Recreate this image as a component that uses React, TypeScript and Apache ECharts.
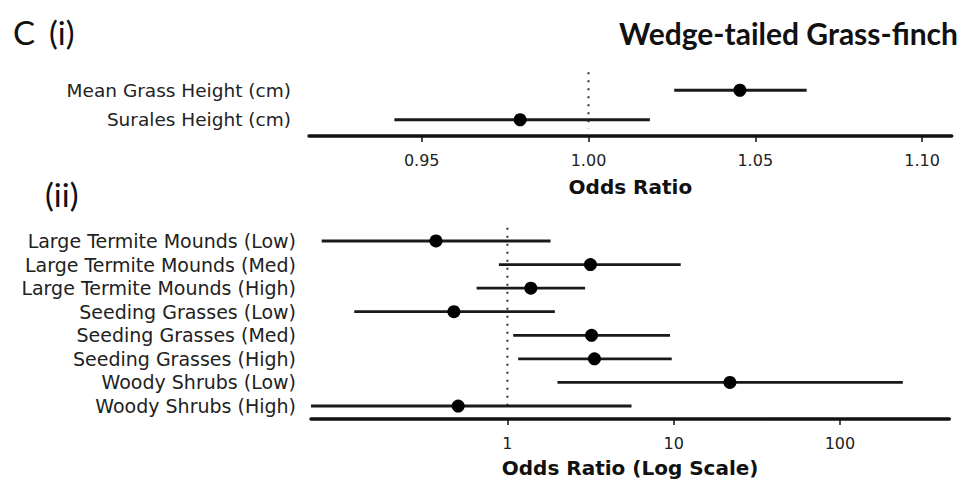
import React, { useEffect, useRef } from "react";
import * as echarts from "echarts";

// ---- Panel (i) ----
const topCategories = ["Mean Grass Height (cm)", "Surales Height (cm)"];
const topEstimate = [1.0454, 0.9795];
const topLower = [1.0257, 0.9418];
const topUpper = [1.0654, 1.0184];
const topTicks = [0.95, 1.0, 1.05, 1.1];
const topRefLine = [1, -0.61, 1.3]; // x value, from row, to row

// ---- Panel (ii) ----
const bottomCategories = [
  "Large Termite Mounds (Low)",
  "Large Termite Mounds (Med)",
  "Large Termite Mounds (High)",
  "Seeding Grasses (Low)",
  "Seeding Grasses (Med)",
  "Seeding Grasses (High)",
  "Woody Shrubs (Low)",
  "Woody Shrubs (High)",
];
const bottomEstimate = [0.372, 3.16, 1.384, 0.477, 3.21, 3.34, 21.8, 0.506];
const bottomLower = [0.0764, 0.889, 0.653, 0.12, 1.084, 1.161, 2.0, 0.0659];
const bottomUpper = [1.818, 11.03, 2.935, 1.93, 9.51, 9.74, 239, 5.58];
const bottomTicks = [1, 10, 100];
const bottomRefLine = [1, -0.56, 7.2];

const FONT = "DejaVu Sans";
const INK = "#111";

function whiskerRender(params: any, api: any) {
  const row = api.value(1);
  const a = api.coord([api.value(2), row]);
  const b = api.coord([api.value(3), row]);
  return {
    type: "line",
    shape: { x1: a[0], y1: a[1], x2: b[0], y2: b[1] },
    style: { stroke: "#1a1a1a", lineWidth: 2.8 },
  };
}

function refLineRender(params: any, api: any) {
  const x = api.value(0);
  const p0 = api.coord([x, 0]);
  const p1 = api.coord([x, 1]);
  const step = p1[1] - p0[1];
  const yA = p0[1] + api.value(2) * step;
  const yB = p0[1] + api.value(3) * step;
  return {
    type: "line",
    shape: { x1: p0[0], y1: yA, x2: p0[0], y2: yB },
    style: { stroke: "#333", lineWidth: 2, lineDash: [2, 6] },
  };
}

export default function App() {
  const ref = useRef<HTMLDivElement>(null);
  useEffect(() => {
    if (!ref.current) return;
    const chart = echarts.init(ref.current, null, { renderer: "svg" });

    const topWhiskers = topCategories.map((_, i) => [topEstimate[i], i, topLower[i], topUpper[i]]);
    const topPoints = topCategories.map((_, i) => [topEstimate[i], i]);
    const botWhiskers = bottomCategories.map((_, i) => [bottomEstimate[i], i, bottomLower[i], bottomUpper[i]]);
    const botPoints = bottomCategories.map((_, i) => [bottomEstimate[i], i]);

    const axisLine = { show: true, lineStyle: { color: INK, width: 3.5 } };
    const yLabelBase = { fontFamily: FONT, color: "#222", interval: 0 };

    chart.setOption({
      animation: false,
      backgroundColor: "#fff",
      grid: [
        { left: 309, right: 19.3, top: 75.5, height: 59 },
        { left: 311, right: 21.7, top: 229.2, height: 188.6 },
      ],
      xAxis: [
        {
          gridIndex: 0,
          type: "value",
          min: 0.9162,
          max: 1.1089,
          offset: 1.5,
          axisLine,
          axisTick: { show: true, length: 6, lineStyle: { color: INK, width: 1.5 }, customValues: topTicks },
          axisLabel: {
            customValues: topTicks,
            formatter: (v: number) => v.toFixed(2),
            fontSize: 16,
            fontFamily: FONT,
            color: "#222",
            margin: 16,
          },
          splitLine: { show: false },
          name: "Odds Ratio",
          nameLocation: "middle",
          nameGap: 41,
          nameTextStyle: { fontFamily: FONT, fontWeight: "bold", fontSize: 20, color: INK },
        },
        {
          gridIndex: 1,
          type: "log",
          logBase: 10,
          min: 0.0659,
          max: 455,
          offset: 1.2,
          axisLine,
          axisTick: { show: true, length: 6, lineStyle: { color: INK, width: 1.5 }, customValues: bottomTicks },
          axisLabel: {
            customValues: bottomTicks,
            formatter: (v: number) => String(Math.round(v)),
            fontSize: 16,
            fontFamily: FONT,
            color: "#222",
            margin: 16,
          },
          splitLine: { show: false },
          minorSplitLine: { show: false },
          name: "Odds Ratio (Log Scale)",
          nameLocation: "middle",
          nameGap: 39,
          nameTextStyle: { fontFamily: FONT, fontWeight: "bold", fontSize: 20, color: INK },
        },
      ],
      yAxis: [
        {
          gridIndex: 0,
          type: "category",
          data: topCategories,
          inverse: true,
          axisLine: { show: false },
          axisTick: { show: false },
          axisLabel: { ...yLabelBase, fontSize: 18.5, margin: 18 },
          splitLine: { show: false },
        },
        {
          gridIndex: 1,
          type: "category",
          data: bottomCategories,
          inverse: true,
          axisLine: { show: false },
          axisTick: { show: false },
          axisLabel: { ...yLabelBase, fontSize: 19, margin: 15 },
          splitLine: { show: false },
        },
      ],
      series: [
        {
          type: "custom",
          xAxisIndex: 0,
          yAxisIndex: 0,
          renderItem: refLineRender,
          data: [[topRefLine[0], 0, topRefLine[1], topRefLine[2]]],
          encode: { x: 0, y: 1 },
          silent: true,
          z: 1,
        },
        {
          type: "custom",
          xAxisIndex: 0,
          yAxisIndex: 0,
          renderItem: whiskerRender,
          data: topWhiskers,
          encode: { x: [0, 2, 3], y: 1 },
          z: 2,
        },
        {
          type: "scatter",
          xAxisIndex: 0,
          yAxisIndex: 0,
          data: topPoints,
          symbol: "circle",
          symbolSize: 13,
          itemStyle: { color: "#000", opacity: 1 },
          z: 3,
        },
        {
          type: "custom",
          xAxisIndex: 1,
          yAxisIndex: 1,
          renderItem: refLineRender,
          data: [[bottomRefLine[0], 0, bottomRefLine[1], bottomRefLine[2]]],
          encode: { x: 0, y: 1 },
          silent: true,
          z: 1,
        },
        {
          type: "custom",
          xAxisIndex: 1,
          yAxisIndex: 1,
          renderItem: whiskerRender,
          data: botWhiskers,
          encode: { x: [0, 2, 3], y: 1 },
          z: 2,
        },
        {
          type: "scatter",
          xAxisIndex: 1,
          yAxisIndex: 1,
          data: botPoints,
          symbol: "circle",
          symbolSize: 13,
          itemStyle: { color: "#000", opacity: 1 },
          z: 3,
        },
      ],
      graphic: [
        {
          type: "text",
          x: 13,
          y: 32,
          style: { text: "C", fontSize: 33, fontFamily: "Lato", fill: "#111", align: "left", verticalAlign: "middle" },
        },
        {
          type: "text",
          x: 49,
          y: 32,
          style: { text: "(i)", fontSize: 33, fontFamily: "Lato", fill: "#111", align: "left", verticalAlign: "middle" },
        },
        {
          type: "text",
          x: 45,
          y: 194,
          style: { text: "(ii)", fontSize: 33, fontFamily: "Lato", fill: "#111", align: "left", verticalAlign: "middle" },
        },
        {
          type: "text",
          x: 958,
          y: 33,
          style: {
            text: "Wedge-tailed Grass-finch",
            fontSize: 30,
            fontWeight: "bold",
            fontFamily: "Lato",
            fill: "#111",
            align: "right",
            verticalAlign: "middle",
          },
        },
      ],
    });
    return () => chart.dispose();
  }, []);
  return <div ref={ref} style={{ position: "fixed", left: 0, top: 0, width: 971, height: 484 }} />;
}
